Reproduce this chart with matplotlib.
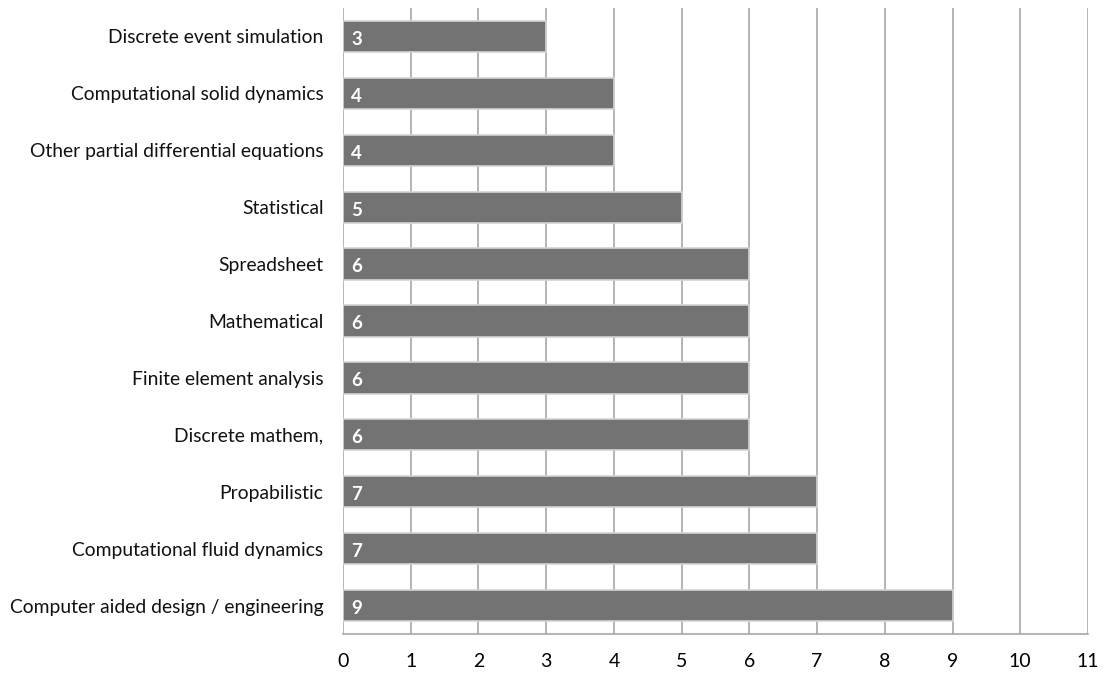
import matplotlib
matplotlib.use("Agg")
import matplotlib.pyplot as plt

categories = [
    "Computer aided design / engineering",
    "Computational fluid dynamics",
    "Propabilistic",
    "Discrete mathem,",
    "Finite element analysis",
    "Mathematical",
    "Spreadsheet",
    "Statistical",
    "Other partial differential equations",
    "Computational solid dynamics",
    "Discrete event simulation",
]
counts = [9, 7, 7, 6, 6, 6, 6, 5, 4, 4, 3]
x_ticks = list(range(0, 12))

plt.rcParams["font.family"] = ["Lato", "DejaVu Sans"]

fig = plt.figure(figsize=(11.03, 6.74), dpi=100)
ax = fig.add_axes([0.311, 0.0593, 0.6754, 0.9288])

y = list(range(len(categories)))
ax.barh(y, counts, height=0.55, color="#737373", edgecolor="#d4d4d4",
        linewidth=1.2, zorder=3)

for yi, v in zip(y, counts):
    ax.text(0.12, yi - 0.05, str(v), color="white", fontsize=13.5,
            fontweight="bold", va="center", ha="left", zorder=4)

ax.set_xlim(0, 11)
ax.set_ylim(-0.5, len(categories) - 0.5)
ax.set_xticks(x_ticks)
ax.set_xticklabels([str(t) for t in x_ticks], fontsize=14)
ax.set_yticks(y)
ax.set_yticklabels(categories, fontsize=13.9, color="#111111")
ax.tick_params(axis="x", length=0, pad=14)
ax.tick_params(axis="y", length=0, pad=14)
ax.grid(axis="x", color="#a8a8a8", linewidth=1.2, zorder=0)
for s in ["top", "left", "right"]:
    ax.spines[s].set_visible(False)
ax.spines["bottom"].set_color("#a8a8a8")
ax.spines["bottom"].set_linewidth(1.2)

fig.savefig("out.png", dpi=100, facecolor="white")
